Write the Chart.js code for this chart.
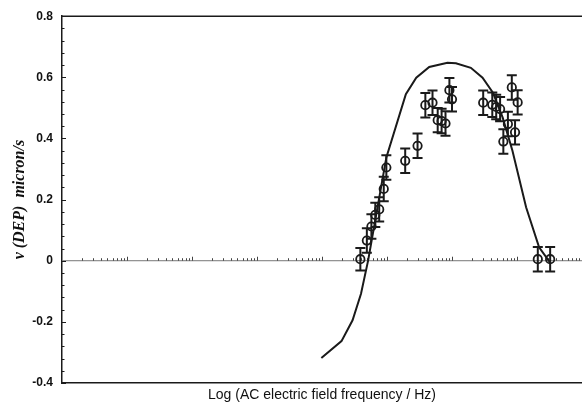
<!DOCTYPE html>
<html>
<head>
<meta charset="utf-8">
<script src="https://cdn.jsdelivr.net/npm/chart.js@4/dist/chart.umd.min.js"></script>
<style>
  html, body { margin: 0; padding: 0; background: #fff; overflow: hidden; }
  canvas { display: block; }
</style>
</head>
<body>
<canvas id="c" width="582" height="406"></canvas>
<script>
// Measured points: log10(frequency / Hz), DEP velocity (micron/s), error bar half-height
const freqLog = [5.59, 5.69, 5.76, 5.82, 5.88, 5.95, 5.99, 6.28, 6.47, 6.59, 6.70, 6.78, 6.84, 6.90, 6.96, 7.00,
                 7.48, 7.62, 7.68, 7.74, 7.79, 7.86, 7.92, 7.97, 8.01, 8.32, 8.51];
const vDep    = [0.005, 0.066, 0.112, 0.150, 0.168, 0.235, 0.305, 0.327, 0.376, 0.509, 0.517, 0.460, 0.457, 0.449, 0.558, 0.528,
                 0.517, 0.510, 0.503, 0.496, 0.390, 0.447, 0.567, 0.420, 0.518, 0.005, 0.005];
const vErr    = [0.037, 0.040, 0.040, 0.040, 0.040, 0.040, 0.040, 0.040, 0.040, 0.040, 0.040, 0.040, 0.040, 0.040, 0.040, 0.040,
                 0.040, 0.040, 0.040, 0.040, 0.040, 0.040, 0.040, 0.040, 0.040, 0.040, 0.040];

// Model curve
const modelLog = [4.99, 5.30, 5.47, 5.60, 5.71, 5.99, 6.29, 6.45, 6.65, 6.93, 7.06, 7.29, 7.47, 7.63, 7.78, 7.93, 8.14, 8.34, 8.51];
const modelV   = [-0.318, -0.263, -0.195, -0.108, 0.001, 0.338, 0.545, 0.599, 0.634, 0.648, 0.646, 0.631, 0.599, 0.550, 0.468, 0.360, 0.175, 0.044, -0.006];

// Axis settings
const xRange = [1, 9];
const yRange = [-0.4, 0.8];
const yMajorStep = 0.2;
const yMinorStep = 0.04;
const yTickLabels = {'-0.4': '-0.4', '-0.2': '-0.2', '0': '0', '0.2': '0.2', '0.4': '0.4', '0.6': '0.6', '0.8': '0.8'};

const INK = '#1a1a1a';

const decor = {
  id: 'decor',
  beforeDatasetsDraw(chart) {
    const {ctx, chartArea: a, scales: {x, y}} = chart;
    const y0 = y.getPixelForValue(0);
    ctx.save();
    ctx.strokeStyle = '#777';
    ctx.lineWidth = 1;
    ctx.beginPath();
    ctx.moveTo(a.left, y0);
    ctx.lineTo(a.right, y0);
    ctx.stroke();
    ctx.strokeStyle = '#444';
    ctx.beginPath();
    for (let d = xRange[0]; d < xRange[1]; d++) {
      for (let m = 2; m <= 10; m++) {
        const px = Math.round(x.getPixelForValue(d + Math.log10(m))) + 0.5;
        const len = m === 10 ? 4 : 2.5;
        ctx.moveTo(px, y0);
        ctx.lineTo(px, y0 - len);
      }
    }
    ctx.stroke();
    ctx.restore();
  },
  afterDatasetsDraw(chart) {
    const {ctx, scales: {x, y}} = chart;
    ctx.save();
    ctx.strokeStyle = INK;
    ctx.lineWidth = 2;
    ctx.beginPath();
    for (let i = 0; i < freqLog.length; i++) {
      const px = x.getPixelForValue(freqLog[i]);
      const top = y.getPixelForValue(vDep[i] + vErr[i]);
      const bot = y.getPixelForValue(vDep[i] - vErr[i]);
      ctx.moveTo(px, top); ctx.lineTo(px, bot);
      ctx.moveTo(px - 5, top); ctx.lineTo(px + 5, top);
      ctx.moveTo(px - 5, bot); ctx.lineTo(px + 5, bot);
    }
    ctx.stroke();
    ctx.restore();
  },
  afterDraw(chart) {
    const {ctx, chartArea: a, scales: {y}} = chart;
    ctx.save();
    ctx.strokeStyle = INK;
    ctx.lineWidth = 1.5;
    ctx.beginPath();
    ctx.moveTo(a.left, a.top);
    ctx.lineTo(a.right, a.top);
    ctx.stroke();
    ctx.lineWidth = 1;
    ctx.beginPath();
    const n = Math.round((yRange[1] - yRange[0]) / yMinorStep);
    for (let i = 0; i <= n; i++) {
      const v = yRange[0] + i * yMinorStep;
      const py = Math.round(y.getPixelForValue(v)) + 0.5;
      const major = Math.abs(v / yMajorStep - Math.round(v / yMajorStep)) < 1e-6;
      ctx.moveTo(a.left, py);
      ctx.lineTo(a.left + (major ? 4 : 2.5), py);
    }
    ctx.stroke();
    ctx.restore();
  }
};

new Chart(document.getElementById('c'), {
  type: 'scatter',
  data: {
    datasets: [
      {
        label: 'model',
        data: modelLog.map((f, i) => ({x: f, y: modelV[i]})),
        showLine: true,
        borderColor: INK,
        borderWidth: 2,
        pointRadius: 0,
        tension: 0,
        fill: false
      },
      {
        label: 'measured',
        data: freqLog.map((f, i) => ({x: f, y: vDep[i]})),
        showLine: false,
        pointStyle: 'circle',
        pointRadius: 4.2,
        borderColor: INK,
        borderWidth: 1.8,
        backgroundColor: 'rgba(0,0,0,0)'
      }
    ]
  },
  options: {
    responsive: false,
    maintainAspectRatio: false,
    animation: false,
    devicePixelRatio: 1,
    events: [],
    layout: { autoPadding: false, padding: { top: 15, right: 0, left: 0, bottom: 0 } },
    plugins: { legend: { display: false }, tooltip: { enabled: false } },
    scales: {
      x: {
        type: 'linear',
        min: xRange[0],
        max: xRange[1],
        grid: { display: false, drawTicks: false },
        border: { display: true, color: INK, width: 1.5 },
        ticks: { display: false },
        title: {
          display: true,
          text: 'Log (AC electric field frequency / Hz)',
          color: '#111',
          font: { family: 'Liberation Sans', size: 14 },
          padding: { top: 4, bottom: 2 }
        },
        afterFit(s) { s.height = 23; s.paddingLeft = 0; s.paddingRight = 0; }
      },
      y: {
        type: 'linear',
        min: yRange[0],
        max: yRange[1],
        grid: { display: false, drawTicks: false },
        border: { display: true, color: INK, width: 1.5 },
        ticks: {
          stepSize: yMajorStep,
          padding: 9,
          color: '#111',
          font: { family: 'Liberation Sans', size: 12, weight: 'bold' },
          callback: (v) => yTickLabels[String(Math.round(v * 10) / 10)] ?? ''
        },
        title: {
          display: true,
          text: 'v (DEP)  micron/s',
          color: '#111',
          font: { family: 'Liberation Serif', size: 16, style: 'italic', weight: 'bold' },
          padding: { top: 10, bottom: 0 }
        },
        afterFit(s) { s.width = 62; }
      }
    }
  },
  plugins: [decor]
});
</script>
</body>
</html>
